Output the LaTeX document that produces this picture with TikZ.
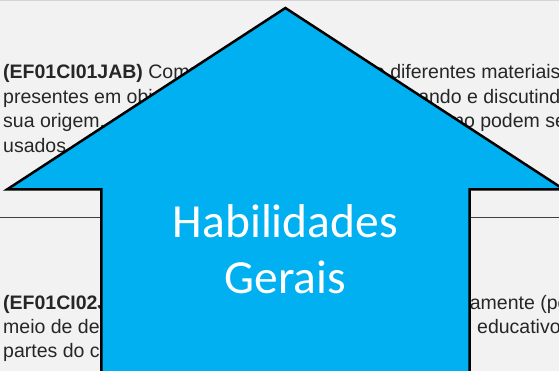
\documentclass[tikz,border=0pt]{standalone}
\usepackage{fontspec}
\setmainfont{Liberation Sans}
\newfontfamily\calibrifont{Carlito}
\usetikzlibrary{calc, positioning}

\definecolor{bgGray}{HTML}{F2F2F2}
\definecolor{arrowBlue}{HTML}{00B0F0}
\definecolor{textGray}{HTML}{262626}
\definecolor{ruleGray}{HTML}{404040}
\definecolor{borderGray}{HTML}{D4D4D4}

\tikzset{
  txtLine/.style={anchor=base west, inner sep=0pt, text=textGray, font=\fontsize{19.5}{25}\selectfont},
  bigLabel/.style={anchor=base, inner sep=0pt, text=white, font=\calibrifont\fontsize{47.5}{56}\selectfont},
  upArrow/.style={draw=black, line width=2.5pt, fill=arrowBlue}
}

\begin{document}
\begin{tikzpicture}[x=1pt,y=-1pt]

\newcommand{\drawTextLine}[4]{
    \node[txtLine] (#1) at (#2,#3) {#4};
}

\clip (0,0) rectangle (559,371);
\fill[bgGray] (0,0) rectangle (559,371);
\draw[borderGray, line width=1.5pt] (0,0.75) -- (559,0.75);

\coordinate (cRuleL) at (0,217.5);
\coordinate (cRuleR) at (559,217.5);
\draw[ruleGray, line width=1.6pt] (cRuleL) -- (cRuleR);

% first habilidade
\drawTextLine{tA1}{3}{79}{\textbf{(EF01CI01JAB)} Comparar}
\drawTextLine{tA1r}{363}{79}{de diferentes materiais}
\drawTextLine{tA2}{3}{103.5}{presentes em objetos}
\drawTextLine{tA2r}{352}{103.5}{identificando e discutindo}
\drawTextLine{tA3}{3}{128}{sua origem,}
\drawTextLine{tA3r}{427}{128}{como podem ser}
\drawTextLine{tA4}{3}{152.5}{usados}

% second habilidade
\drawTextLine{tB1}{3}{309}{\textbf{(EF01CI02JAB)} Localizar}
\drawTextLine{tB1r}{422}{309}{graficamente (por}
\drawTextLine{tB2}{3}{333}{meio de desenhos}
\drawTextLine{tB2r}{477}{333}{educativos}
\drawTextLine{tB3}{3}{357}{partes do corpo}

% arrow
\coordinate (cTipPt) at (285.4,8);
\coordinate (cLeftPt) at (7,189.5);
\coordinate (cRightPt) at (564,189.5);
\coordinate (cShaftLPt) at (101.3,189.5);
\coordinate (cShaftRPt) at (469.5,189.5);
\coordinate (cShaftLBot) at (101.3,380);
\coordinate (cShaftRBot) at (469.5,380);

\draw[upArrow] (cTipPt) -- (cRightPt) -- (cShaftRPt) -- (cShaftRBot)
    -- (cShaftLBot) -- (cShaftLPt) -- (cLeftPt) -- cycle;

\node[bigLabel] (hab) at (285.4,237) {Habilidades};
\node[bigLabel] (ger) at ($(hab.base)+(0,56)$) {Gerais};

\end{tikzpicture}
\end{document}
